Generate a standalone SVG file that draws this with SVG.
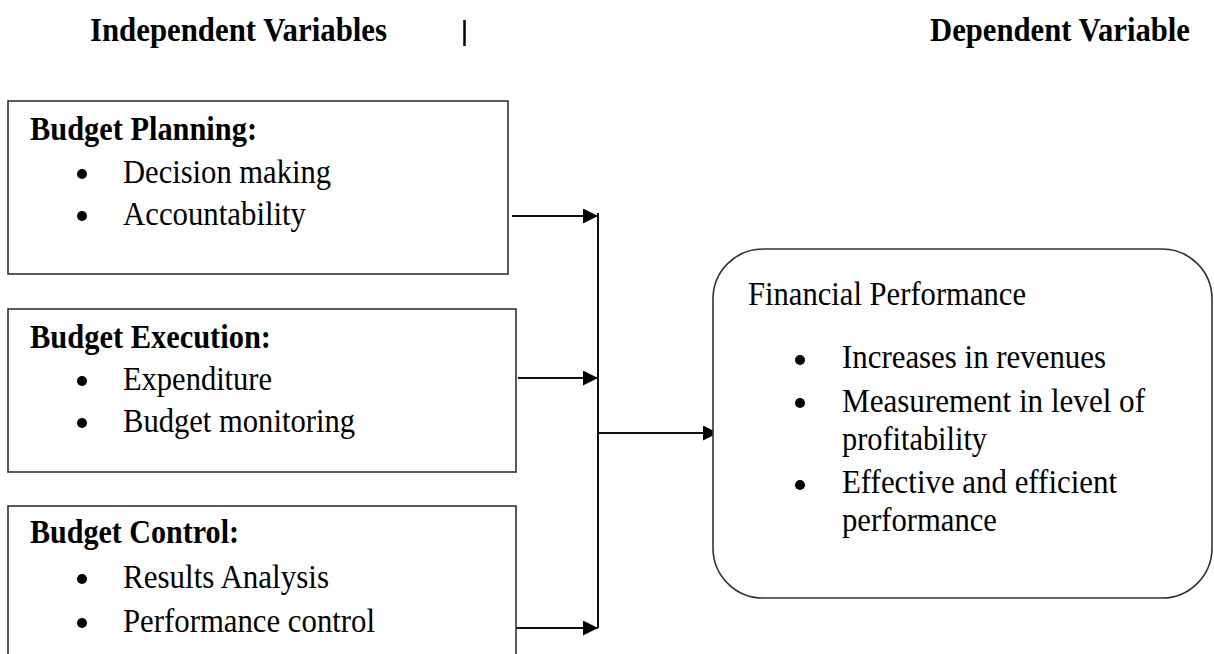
<svg xmlns="http://www.w3.org/2000/svg" width="1214" height="654" viewBox="0 0 1214 654">
<defs>
<style>
.t{font-family:"Liberation Serif","Times New Roman",serif;font-size:33px;fill:#000}
.b{font-weight:bold}
.box{fill:#fff;stroke:#333;stroke-width:1.6}
.ln{fill:none;stroke:#111;stroke-width:2}
.dot{fill:#000}
</style>
<marker id="ah" viewBox="0 0 10 10" refX="10" refY="5" markerWidth="15" markerHeight="15" markerUnits="userSpaceOnUse" orient="auto">
<path d="M0,0 L10,5 L0,10 z" fill="#000"/>
</marker>
</defs>
<rect width="1214" height="654" fill="#fff"/>
<g id="headers">
<text class="t b" x="90" y="41" textLength="297" lengthAdjust="spacingAndGlyphs">Independent Variables</text>
<line x1="464.5" y1="20" x2="464.5" y2="46" stroke="#000" stroke-width="2.5"/>
<text class="t b" x="930" y="41" textLength="260" lengthAdjust="spacingAndGlyphs">Dependent Variable</text>
</g>
<g id="connectors">
<line class="ln" x1="512" y1="216" x2="598" y2="216" marker-end="url(#ah)"/>
<line class="ln" x1="518" y1="378" x2="598" y2="378" marker-end="url(#ah)"/>
<line class="ln" x1="512" y1="628" x2="598" y2="628" marker-end="url(#ah)"/>
<line class="ln" x1="598" y1="213" x2="598" y2="628"/>
<line class="ln" x1="598" y1="433" x2="718" y2="433" marker-end="url(#ah)"/>
</g>
<g id="budget-planning">
<rect class="box" x="8" y="101" width="500" height="173"/>
<text class="t b" x="30" y="140" textLength="227" lengthAdjust="spacingAndGlyphs">Budget Planning:</text>
<circle class="dot" cx="82" cy="174" r="5"/>
<text class="t" x="123" y="183" textLength="208" lengthAdjust="spacingAndGlyphs">Decision making</text>
<circle class="dot" cx="82" cy="216" r="5"/>
<text class="t" x="123" y="225" textLength="183" lengthAdjust="spacingAndGlyphs">Accountability</text>
</g>
<g id="budget-execution">
<rect class="box" x="8" y="309" width="508" height="163"/>
<text class="t b" x="30" y="348" textLength="241" lengthAdjust="spacingAndGlyphs">Budget Execution:</text>
<circle class="dot" cx="82" cy="381" r="5"/>
<text class="t" x="123" y="390" textLength="149" lengthAdjust="spacingAndGlyphs">Expenditure</text>
<circle class="dot" cx="82" cy="423" r="5"/>
<text class="t" x="123" y="432" textLength="232" lengthAdjust="spacingAndGlyphs">Budget monitoring</text>
</g>
<g id="budget-control">
<rect class="box" x="8" y="506" width="508" height="160"/>
<text class="t b" x="30" y="543" textLength="209" lengthAdjust="spacingAndGlyphs">Budget Control:</text>
<circle class="dot" cx="82" cy="579" r="5"/>
<text class="t" x="123" y="588" textLength="206" lengthAdjust="spacingAndGlyphs">Results Analysis</text>
<circle class="dot" cx="82" cy="623" r="5"/>
<text class="t" x="123" y="632" textLength="252" lengthAdjust="spacingAndGlyphs">Performance control</text>
</g>
<g id="financial-performance">
<rect class="box" x="713" y="249" width="499" height="349" rx="50" ry="50"/>
<text class="t" x="748" y="305" textLength="278" lengthAdjust="spacingAndGlyphs">Financial Performance</text>
<circle class="dot" cx="800" cy="360" r="5"/>
<text class="t" x="842" y="368" textLength="264" lengthAdjust="spacingAndGlyphs">Increases in revenues</text>
<circle class="dot" cx="800" cy="403" r="5"/>
<text class="t" x="842" y="412" textLength="303" lengthAdjust="spacingAndGlyphs">Measurement in level of</text>
<text class="t" x="842" y="450" textLength="145" lengthAdjust="spacingAndGlyphs">profitability</text>
<circle class="dot" cx="800" cy="485" r="5"/>
<text class="t" x="842" y="493" textLength="275" lengthAdjust="spacingAndGlyphs">Effective and efficient</text>
<text class="t" x="842" y="531" textLength="155" lengthAdjust="spacingAndGlyphs">performance</text>
</g>
</svg>
